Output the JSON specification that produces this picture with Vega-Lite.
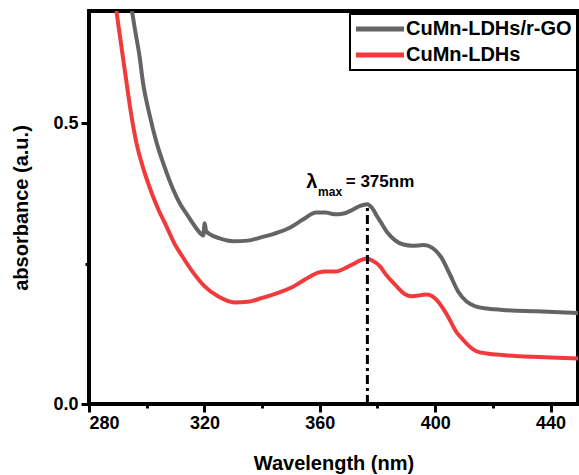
{
  "$schema": "https://vega.github.io/schema/vega-lite/v6.json",
  "width": 489,
  "height": 393,
  "autosize": {"type": "none"},
  "padding": {"left": 89, "top": 11, "right": 1, "bottom": 71},
  "background": "white",
  "config": {
    "view": {"stroke": "black", "strokeWidth": 4},
    "font": "Liberation Sans",
    "axis": {
      "domain": false,
      "grid": false,
      "tickColor": "black",
      "labelColor": "black",
      "titleColor": "black",
      "labelFont": "Liberation Sans",
      "titleFont": "Liberation Sans",
      "labelFontWeight": "bold",
      "titleFontWeight": "bold",
      "labelFontSize": 18,
      "titleFontSize": 20
    }
  },
  "datasets": {
    "spectra": [
      {"wl": 294.9, "abs": 0.70, "series": "CuMn-LDHs/r-GO"},
      {"wl": 296.0, "abs": 0.665, "series": "CuMn-LDHs/r-GO"},
      {"wl": 297.5, "abs": 0.62, "series": "CuMn-LDHs/r-GO"},
      {"wl": 298.7, "abs": 0.573, "series": "CuMn-LDHs/r-GO"},
      {"wl": 301.0, "abs": 0.515, "series": "CuMn-LDHs/r-GO"},
      {"wl": 303.4, "abs": 0.466, "series": "CuMn-LDHs/r-GO"},
      {"wl": 306.0, "abs": 0.425, "series": "CuMn-LDHs/r-GO"},
      {"wl": 309.1, "abs": 0.383, "series": "CuMn-LDHs/r-GO"},
      {"wl": 311.5, "abs": 0.357, "series": "CuMn-LDHs/r-GO"},
      {"wl": 314.3, "abs": 0.335, "series": "CuMn-LDHs/r-GO"},
      {"wl": 316.5, "abs": 0.318, "series": "CuMn-LDHs/r-GO"},
      {"wl": 319.0, "abs": 0.302, "series": "CuMn-LDHs/r-GO"},
      {"wl": 319.6, "abs": 0.300, "series": "CuMn-LDHs/r-GO"},
      {"wl": 320.1, "abs": 0.322, "series": "CuMn-LDHs/r-GO"},
      {"wl": 320.6, "abs": 0.308, "series": "CuMn-LDHs/r-GO"},
      {"wl": 322.0, "abs": 0.302, "series": "CuMn-LDHs/r-GO"},
      {"wl": 325.3, "abs": 0.295, "series": "CuMn-LDHs/r-GO"},
      {"wl": 330.0, "abs": 0.290, "series": "CuMn-LDHs/r-GO"},
      {"wl": 335.0, "abs": 0.291, "series": "CuMn-LDHs/r-GO"},
      {"wl": 339.0, "abs": 0.296, "series": "CuMn-LDHs/r-GO"},
      {"wl": 344.0, "abs": 0.303, "series": "CuMn-LDHs/r-GO"},
      {"wl": 349.6, "abs": 0.314, "series": "CuMn-LDHs/r-GO"},
      {"wl": 354.0, "abs": 0.328, "series": "CuMn-LDHs/r-GO"},
      {"wl": 358.8, "abs": 0.341, "series": "CuMn-LDHs/r-GO"},
      {"wl": 362.0, "abs": 0.341, "series": "CuMn-LDHs/r-GO"},
      {"wl": 365.0, "abs": 0.338, "series": "CuMn-LDHs/r-GO"},
      {"wl": 367.9, "abs": 0.339, "series": "CuMn-LDHs/r-GO"},
      {"wl": 371.0, "abs": 0.345, "series": "CuMn-LDHs/r-GO"},
      {"wl": 374.0, "abs": 0.353, "series": "CuMn-LDHs/r-GO"},
      {"wl": 376.4, "abs": 0.356, "series": "CuMn-LDHs/r-GO"},
      {"wl": 378.0, "abs": 0.350, "series": "CuMn-LDHs/r-GO"},
      {"wl": 380.0, "abs": 0.333, "series": "CuMn-LDHs/r-GO"},
      {"wl": 381.0, "abs": 0.325, "series": "CuMn-LDHs/r-GO"},
      {"wl": 383.5, "abs": 0.305, "series": "CuMn-LDHs/r-GO"},
      {"wl": 386.0, "abs": 0.292, "series": "CuMn-LDHs/r-GO"},
      {"wl": 389.0, "abs": 0.284, "series": "CuMn-LDHs/r-GO"},
      {"wl": 392.0, "abs": 0.282, "series": "CuMn-LDHs/r-GO"},
      {"wl": 396.0, "abs": 0.283, "series": "CuMn-LDHs/r-GO"},
      {"wl": 399.0, "abs": 0.278, "series": "CuMn-LDHs/r-GO"},
      {"wl": 402.0, "abs": 0.262, "series": "CuMn-LDHs/r-GO"},
      {"wl": 405.0, "abs": 0.232, "series": "CuMn-LDHs/r-GO"},
      {"wl": 408.0, "abs": 0.200, "series": "CuMn-LDHs/r-GO"},
      {"wl": 411.0, "abs": 0.182, "series": "CuMn-LDHs/r-GO"},
      {"wl": 414.0, "abs": 0.174, "series": "CuMn-LDHs/r-GO"},
      {"wl": 418.0, "abs": 0.170, "series": "CuMn-LDHs/r-GO"},
      {"wl": 425.0, "abs": 0.167, "series": "CuMn-LDHs/r-GO"},
      {"wl": 435.0, "abs": 0.165, "series": "CuMn-LDHs/r-GO"},
      {"wl": 449.5, "abs": 0.162, "series": "CuMn-LDHs/r-GO"},
      {"wl": 289.5, "abs": 0.70, "series": "CuMn-LDHs"},
      {"wl": 291.0, "abs": 0.645, "series": "CuMn-LDHs"},
      {"wl": 293.0, "abs": 0.573, "series": "CuMn-LDHs"},
      {"wl": 294.5, "abs": 0.52, "series": "CuMn-LDHs"},
      {"wl": 296.4, "abs": 0.466, "series": "CuMn-LDHs"},
      {"wl": 298.5, "abs": 0.425, "series": "CuMn-LDHs"},
      {"wl": 301.0, "abs": 0.386, "series": "CuMn-LDHs"},
      {"wl": 304.0, "abs": 0.347, "series": "CuMn-LDHs"},
      {"wl": 306.8, "abs": 0.317, "series": "CuMn-LDHs"},
      {"wl": 309.5, "abs": 0.287, "series": "CuMn-LDHs"},
      {"wl": 312.6, "abs": 0.261, "series": "CuMn-LDHs"},
      {"wl": 316.0, "abs": 0.235, "series": "CuMn-LDHs"},
      {"wl": 320.0, "abs": 0.210, "series": "CuMn-LDHs"},
      {"wl": 325.0, "abs": 0.191, "series": "CuMn-LDHs"},
      {"wl": 330.5, "abs": 0.181, "series": "CuMn-LDHs"},
      {"wl": 335.0, "abs": 0.182, "series": "CuMn-LDHs"},
      {"wl": 340.0, "abs": 0.189, "series": "CuMn-LDHs"},
      {"wl": 345.0, "abs": 0.197, "series": "CuMn-LDHs"},
      {"wl": 350.0, "abs": 0.207, "series": "CuMn-LDHs"},
      {"wl": 355.0, "abs": 0.222, "series": "CuMn-LDHs"},
      {"wl": 359.4, "abs": 0.234, "series": "CuMn-LDHs"},
      {"wl": 362.0, "abs": 0.236, "series": "CuMn-LDHs"},
      {"wl": 365.7, "abs": 0.236, "series": "CuMn-LDHs"},
      {"wl": 368.0, "abs": 0.240, "series": "CuMn-LDHs"},
      {"wl": 371.5, "abs": 0.249, "series": "CuMn-LDHs"},
      {"wl": 374.0, "abs": 0.256, "series": "CuMn-LDHs"},
      {"wl": 376.4, "abs": 0.259, "series": "CuMn-LDHs"},
      {"wl": 378.0, "abs": 0.256, "series": "CuMn-LDHs"},
      {"wl": 380.8, "abs": 0.2457, "series": "CuMn-LDHs"},
      {"wl": 383.0, "abs": 0.230, "series": "CuMn-LDHs"},
      {"wl": 386.0, "abs": 0.213, "series": "CuMn-LDHs"},
      {"wl": 389.4, "abs": 0.196, "series": "CuMn-LDHs"},
      {"wl": 392.0, "abs": 0.192, "series": "CuMn-LDHs"},
      {"wl": 396.9, "abs": 0.195, "series": "CuMn-LDHs"},
      {"wl": 399.0, "abs": 0.192, "series": "CuMn-LDHs"},
      {"wl": 400.4, "abs": 0.186, "series": "CuMn-LDHs"},
      {"wl": 403.0, "abs": 0.168, "series": "CuMn-LDHs"},
      {"wl": 405.0, "abs": 0.1505, "series": "CuMn-LDHs"},
      {"wl": 407.0, "abs": 0.131, "series": "CuMn-LDHs"},
      {"wl": 409.6, "abs": 0.1148, "series": "CuMn-LDHs"},
      {"wl": 412.0, "abs": 0.102, "series": "CuMn-LDHs"},
      {"wl": 414.3, "abs": 0.094, "series": "CuMn-LDHs"},
      {"wl": 418.0, "abs": 0.090, "series": "CuMn-LDHs"},
      {"wl": 421.2, "abs": 0.088, "series": "CuMn-LDHs"},
      {"wl": 429.3, "abs": 0.085, "series": "CuMn-LDHs"},
      {"wl": 440.0, "abs": 0.083, "series": "CuMn-LDHs"},
      {"wl": 449.5, "abs": 0.081, "series": "CuMn-LDHs"}
    ],
    "marker": [{"wl": 376.5, "y0": 0, "y1": 0.356}],
    "lam": [{"wl": 357.2, "abs": 0.396, "t": "λ"}],
    "sub": [{"wl": 359.4, "abs": 0.378, "t": "max"}],
    "rest": [{"wl": 369.0, "abs": 0.396, "t": "= 375nm"}]
  },
  "layer": [
    {
      "data": {"name": "spectra"},
      "mark": {"type": "line", "strokeWidth": 4, "clip": true, "interpolate": "monotone"},
      "encoding": {
        "x": {
          "field": "wl", "type": "quantitative",
          "scale": {"domain": [280, 449.5], "nice": false, "zero": false},
          "axis": {
            "title": "Wavelength (nm)",
            "values": [280, 300, 320, 340, 360, 380, 400, 420, 440],
            "labelExpr": "datum.value % 40 === 0 ? datum.label : ''",
            "tickSize": {"condition": {"test": "datum.value % 40 === 0", "value": 8}, "value": 4},
            "tickWidth": 3,
            "labelPadding": 2,
            "titlePadding": 21
          }
        },
        "y": {
          "field": "abs", "type": "quantitative",
          "scale": {"domain": [0, 0.7], "nice": false},
          "axis": {
            "title": "absorbance (a.u.)",
            "values": [0, 0.25, 0.5],
            "labelExpr": "datum.value === 0.25 ? '' : format(datum.value, '.1f')",
            "tickSize": {"condition": {"test": "datum.value === 0.25", "value": 4}, "value": 8},
            "tickWidth": 3,
            "labelPadding": 3,
            "titlePadding": 21
          }
        },
        "color": {
          "field": "series", "type": "nominal",
          "scale": {"domain": ["CuMn-LDHs/r-GO", "CuMn-LDHs"], "range": ["#646464", "#f03a3c"]},
          "legend": {
            "title": null,
            "orient": "none",
            "legendX": 261,
            "legendY": 3,
            "strokeColor": "black",
            "fillColor": "white",
            "padding": 5,
            "symbolType": "M-4,0L4,0",
            "symbolStrokeWidth": 5,
            "symbolSize": 144,
            "symbolOffset": 15,
            "labelFont": "Liberation Sans",
            "labelFontWeight": "bold",
            "labelFontSize": 20,
            "labelLimit": 0,
            "labelColor": "black",
            "rowPadding": 6,
            "labelOffset": 16,
            "encode": {"legend": {"update": {"strokeWidth": {"value": 2}}}}
          }
        }
      }
    },
    {
      "data": {"name": "marker"},
      "mark": {"type": "rule", "color": "black", "strokeWidth": 3, "strokeDash": [9, 4, 3, 4]},
      "encoding": {
        "x": {"field": "wl", "type": "quantitative"},
        "y": {"field": "y0", "type": "quantitative"},
        "y2": {"field": "y1"}
      }
    },
    {
      "data": {"name": "lam"},
      "mark": {"type": "text", "font": "Liberation Sans", "fontSize": 20, "fontWeight": "bold", "color": "black", "align": "center", "baseline": "middle"},
      "encoding": {
        "x": {"field": "wl", "type": "quantitative"},
        "y": {"field": "abs", "type": "quantitative"},
        "text": {"field": "t"}
      }
    },
    {
      "data": {"name": "sub"},
      "mark": {"type": "text", "font": "Liberation Sans", "fontSize": 12, "fontWeight": "bold", "color": "black", "align": "left", "baseline": "middle"},
      "encoding": {
        "x": {"field": "wl", "type": "quantitative"},
        "y": {"field": "abs", "type": "quantitative"},
        "text": {"field": "t"}
      }
    },
    {
      "data": {"name": "rest"},
      "mark": {"type": "text", "font": "Liberation Sans", "fontSize": 17, "fontWeight": "bold", "color": "black", "align": "left", "baseline": "middle"},
      "encoding": {
        "x": {"field": "wl", "type": "quantitative"},
        "y": {"field": "abs", "type": "quantitative"},
        "text": {"field": "t"}
      }
    }
  ]
}
